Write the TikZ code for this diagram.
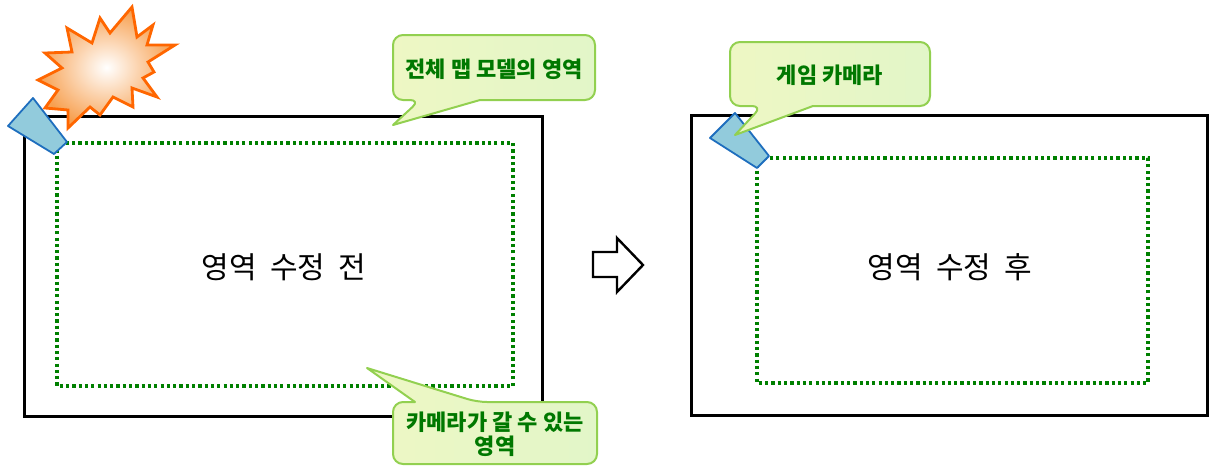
\documentclass[tikz,border=0pt]{standalone}
\usepackage{fontspec}
\newfontfamily\krfont{Noto Sans CJK KR}
\definecolor{dotgreen}{RGB}{0,128,0}
\definecolor{noteedge}{RGB}{146,208,80}
\definecolor{notel}{RGB}{238,247,196}
\definecolor{notem}{RGB}{250,250,224}
\definecolor{noter}{RGB}{226,246,200}
\definecolor{notetext}{RGB}{0,120,0}
\definecolor{camblue}{RGB}{30,110,190}
\definecolor{camfill}{RGB}{146,203,220}
\definecolor{boomedge}{RGB}{255,102,0}
\definecolor{boomfill}{RGB}{247,160,80}

\begin{document}
\begin{tikzpicture}[x=1pt,y=-1pt,
  frame/.style={draw=black,line width=3pt},
  reach/.style={draw=dotgreen,line width=3.2pt,dash pattern=on 3.2pt off 3.1pt},
  camera/.style={draw=camblue,fill=camfill,line width=1.8pt,line join=round},
  boom/.style={draw=boomedge,line width=2.8pt,line join=miter,inner color=white,outer color=boomfill},
  note/.style={draw=noteedge,line width=2pt,left color=notel,middle color=notem,right color=noter,line join=round},
  notetext/.style={font=\krfont\bfseries\fontsize{22}{24}\selectfont,text=notetext,align=center,inner sep=0pt},
  title/.style={font=\krfont\fontsize{30}{34}\selectfont,inner sep=0pt}]
\useasboundingbox (0,0) rectangle (1209,466);

% before
\draw[frame] (24,116) rectangle (542,416);
\draw[reach] (57,143) rectangle (513,386);
\node[title] (before) at (284,267) {영역 \ 수정 \ 전};

% after
\draw[frame] (691,115) rectangle (1207,415);
\draw[reach] (757,158) rectangle (1148,383);
\node[title] (after) at (950,267) {영역 \ 수정 \ 후};

% hollow arrow between the two
\draw[line width=2.4pt,fill=white,line join=miter] (593,252) -- (617,252) -- (617,238) -- (643,265)
  -- (617,292) -- (617,277) -- (593,277) -- cycle;

% cameras
\draw[camera] (8,126) -- (33,98) -- (67,142) -- (54,154) -- cycle;
\draw[camera] (710,138) -- (735,113) -- (769,156) -- (757,168) -- cycle;

% burst over the old camera
\draw[boom] (132,7) -- (137,37) -- (153,25) -- (147,45) -- (175,45) -- (148,62) -- (154,72)
  -- (143,78) -- (157,97) -- (132,88) -- (133,107) -- (113,97) -- (100,115) -- (90,107)
  -- (68,128) -- (68,110) -- (45,108) -- (58,90) -- (38,80) -- (62,68) -- (45,53)
  -- (72,52) -- (67,28) -- (92,43) -- (100,18) -- (110,33) -- cycle;

% callouts
\draw[note] (480,100) [rounded corners=10pt] -- (595,100) -- (595,35) -- (393,35) -- (393,100)
  -- (420,100) [sharp corners] -- (393,125) -- cycle;
\node[notetext] (maparea) at (494,69) {전체 맵 모델의 영역};

\draw[note] (415,402) [rounded corners=10pt] -- (393,402) -- (393,464) -- (597,464) -- (597,402)
  -- (477,402) [sharp corners] -- (367,368) -- cycle;
\node[notetext] (camarea) at (495,434) {카메라가 갈 수 있는\\영역};

\draw[note] (813,106) [rounded corners=10pt] -- (930,106) -- (930,42) -- (730,42) -- (730,106)
  -- (762,106) [sharp corners] -- (735,135) -- cycle;
\node[notetext] (gamecam) at (830,75) {게임 카메라};
\end{tikzpicture}
\end{document}
